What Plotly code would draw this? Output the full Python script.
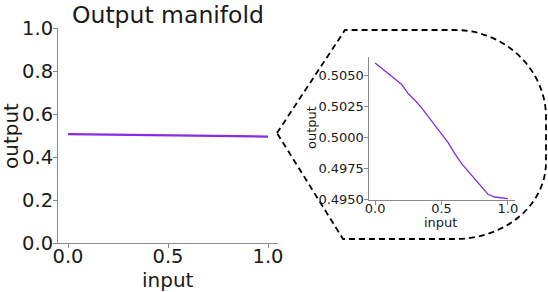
import plotly.graph_objects as go

W, H = 548, 292

# data
inputs = [0.00, 0.05, 0.10, 0.15, 0.20, 0.25, 0.30, 0.35, 0.40, 0.45, 0.50,
          0.55, 0.60, 0.65, 0.70, 0.75, 0.80, 0.85, 0.90, 0.95, 1.00]
outputs = [0.50597, 0.50554, 0.50511, 0.50468, 0.50424, 0.50349, 0.50297, 0.50236,
           0.50166, 0.50096, 0.50026, 0.49955, 0.49868, 0.49788, 0.49726, 0.49664,
           0.49602, 0.49540, 0.49518, 0.49511, 0.49505]

main_yticks = [0.0, 0.2, 0.4, 0.6, 0.8, 1.0]
main_ytick_labels = ["0.0", "0.2", "0.4", "0.6", "0.8", "1.0"]
xticks = [0.0, 0.5, 1.0]
xtick_labels = ["0.0", "0.5", "1.0"]
inset_yticks = [0.4950, 0.4975, 0.5000, 0.5025, 0.5050]
inset_ytick_labels = ["0.4950", "0.4975", "0.5000", "0.5025", "0.5050"]

title_text = "Output manifold"
xlabel = "input"
ylabel = "output"

LINE_COLOR = "#8a2be2"
SPINE = "#8a8a8a"
TXT = "#1a1a1a"
FONT = "DejaVu Sans"


def px(x):
    return x / W


def py(y):
    return 1 - y / H


fig = go.Figure()
fig.add_trace(go.Scatter(x=inputs, y=outputs, mode="lines",
                         line=dict(color=LINE_COLOR, width=2.2),
                         xaxis="x", yaxis="y", showlegend=False, hoverinfo="skip"))
fig.add_trace(go.Scatter(x=inputs, y=outputs, mode="lines",
                         line=dict(color=LINE_COLOR, width=1.3),
                         xaxis="x2", yaxis="y2", showlegend=False, hoverinfo="skip"))

axis_common = dict(showgrid=False, zeroline=False, showline=True, linecolor=SPINE,
                   linewidth=1, ticks="outside", tickcolor=SPINE, ticklen=4,
                   automargin=False, mirror=False)

fig.update_layout(
    width=W, height=H,
    margin=dict(l=0, r=0, t=0, b=0),
    paper_bgcolor="white", plot_bgcolor="white",
    font=dict(family=FONT, color=TXT),
    xaxis=dict(domain=[px(58), px(278)], range=[-0.05, 1.05], anchor="y",
               tickvals=xticks, ticktext=xtick_labels, ticklabelstandoff=-8,
               tickfont=dict(size=19.5, family=FONT, color=TXT), **axis_common),
    yaxis=dict(domain=[py(243), py(28)], range=[0, 1], anchor="x",
               tickvals=main_yticks, ticktext=main_ytick_labels, ticklabelstandoff=-4,
               tickfont=dict(size=19.5, family=FONT, color=TXT), **axis_common),
    xaxis2=dict(domain=[px(368.5), px(514.5)], range=[-0.05, 1.05], anchor="y2",
                tickvals=xticks, ticktext=xtick_labels, ticklabelstandoff=-8,
                tickfont=dict(size=13, family=FONT, color=TXT), **axis_common),
    yaxis2=dict(domain=[py(200), py(57)], range=[0.49494, 0.50645], anchor="x2",
                tickvals=inset_yticks, ticktext=inset_ytick_labels, ticklabelstandoff=-3,
                tickfont=dict(size=13, family=FONT, color=TXT), **axis_common),
)

annots = [
    dict(text=title_text, x=px(168), y=py(15), size=23.5),
    dict(text=xlabel, x=px(168), y=py(279.5), size=20),
    dict(text=ylabel, x=px(11), y=py(136), size=20, angle=-90),
    dict(text=xlabel, x=px(440), y=py(222.5), size=13),
    dict(text=ylabel, x=px(311), y=py(128), size=13, angle=-90),
]
for a in annots:
    fig.add_annotation(text=a["text"], x=a["x"], y=a["y"], xref="paper", yref="paper",
                       xanchor="center", yanchor="middle", showarrow=False,
                       textangle=a.get("angle", 0),
                       font=dict(size=a["size"], family=FONT, color=TXT))

# dashed callout shape (pixel coords converted to paper)
pts = [
    ("M", [(277, 133)]),
    ("L", [(345, 30)]),
    ("L", [(455, 30)]),
    ("C", [(505, 30), (546, 70), (546, 117)]),
    ("L", [(546, 162)]),
    ("C", [(546, 205), (505, 239), (455, 239)]),
    ("L", [(343, 239)]),
    ("Z", []),
]
path = ""
for cmd, ps in pts:
    path += cmd + " " + " ".join(f"{px(x):.5f},{py(y):.5f}" for x, y in ps) + " "
fig.add_shape(type="path", path=path.strip(), xref="paper", yref="paper",
              line=dict(color="black", width=1.8, dash="6px,4px"))

fig.write_html("out.html", config={"displayModeBar": False},
               post_script="document.body.style.margin='0';document.body.style.overflow='hidden';")
